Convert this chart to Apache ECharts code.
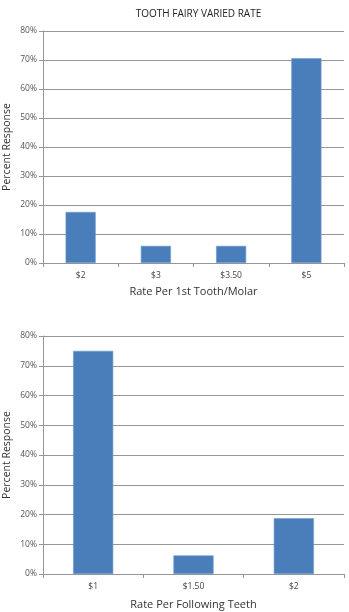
<!DOCTYPE html>
<html>
<head>
<meta charset="utf-8">
<script src="https://cdn.jsdelivr.net/npm/echarts@6/dist/echarts.min.js"></script>
<style>
  html, body { margin: 0; padding: 0; background: #fff; }
  #chart { width: 349px; height: 612px; }
</style>
</head>
<body>
<div id="chart"></div>
<script>
// Survey results: tooth fairy payment rates
const chartTitle = 'TOOTH FAIRY VARIED RATE';

const firstToothCategories = ['$2', '$3', '$3.50', '$5'];
const firstToothPercent = [17.6, 5.9, 5.9, 70.6];

const followingCategories = ['$1', '$1.50', '$2'];
const followingPercent = [75, 6.25, 18.75];

const firstAxisName = 'Rate Per 1st Tooth/Molar';
const followingAxisName = 'Rate Per Following Teeth';
const valueAxisName = 'Percent Response';

const FONT = '"Open Sans", "Liberation Sans", sans-serif';
const BAR_COLOR = '#4a7ebb';
const GRID_COLOR = '#969696';
const TEXT_COLOR = '#333';

function valueAxis(gridIndex) {
  return {
    type: 'value',
    gridIndex: gridIndex,
    min: 0,
    max: 80,
    interval: 10,
    name: valueAxisName,
    nameLocation: 'middle',
    nameGap: 30,
    nameMoveOverlap: false,
    nameTextStyle: { fontFamily: FONT, fontSize: 10.5, color: TEXT_COLOR },
    axisLine: { show: true, lineStyle: { color: GRID_COLOR, width: 1 } },
    axisTick: { show: true, length: 4, lineStyle: { color: GRID_COLOR } },
    axisLabel: {
      formatter: '{value}%',
      fontFamily: FONT, fontSize: 8.5, color: '#555', margin: 6
    },
    splitLine: { show: true, lineStyle: { color: GRID_COLOR, width: 1.2 } }
  };
}

function categoryAxis(gridIndex, cats, name, gap) {
  return {
    type: 'category',
    gridIndex: gridIndex,
    data: cats,
    boundaryGap: true,
    name: name,
    nameLocation: 'middle',
    nameGap: gap,
    nameMoveOverlap: false,
    nameTextStyle: { fontFamily: FONT, fontSize: 11, color: TEXT_COLOR },
    axisLine: { show: true, lineStyle: { color: GRID_COLOR, width: 1.2 } },
    axisTick: { show: true, alignWithLabel: false, length: 4, lineStyle: { color: GRID_COLOR } },
    axisLabel: { fontFamily: FONT, fontSize: 8.5, color: '#444', margin: 8 }
  };
}

function barSeries(idx, values) {
  return {
    type: 'bar',
    xAxisIndex: idx,
    yAxisIndex: idx,
    data: values,
    barWidth: '40%',
    itemStyle: { color: BAR_COLOR, borderColor: '#6f9bd0', borderWidth: 0.6 },
    silent: true
  };
}

const chart = echarts.init(document.getElementById('chart'), null, { renderer: 'canvas' });
chart.setOption({
  backgroundColor: '#fff',
  animation: false,
  title: {
    text: chartTitle,
    left: 193.5,
    top: 4,
    textAlign: 'center',
    textStyle: { fontFamily: FONT, fontSize: 10, fontWeight: 'normal', color: '#222' }
  },
  grid: [
    { left: 43, right: 5, top: 31, height: 232, containLabel: false, outerBoundsMode: 'none' },
    { left: 43, right: 5, top: 336, height: 238, containLabel: false, outerBoundsMode: 'none' }
  ],
  xAxis: [
    categoryAxis(0, firstToothCategories, firstAxisName, 23),
    categoryAxis(1, followingCategories, followingAxisName, 25)
  ],
  yAxis: [valueAxis(0), valueAxis(1)],
  series: [barSeries(0, firstToothPercent), barSeries(1, followingPercent)]
});
</script>
</body>
</html>
